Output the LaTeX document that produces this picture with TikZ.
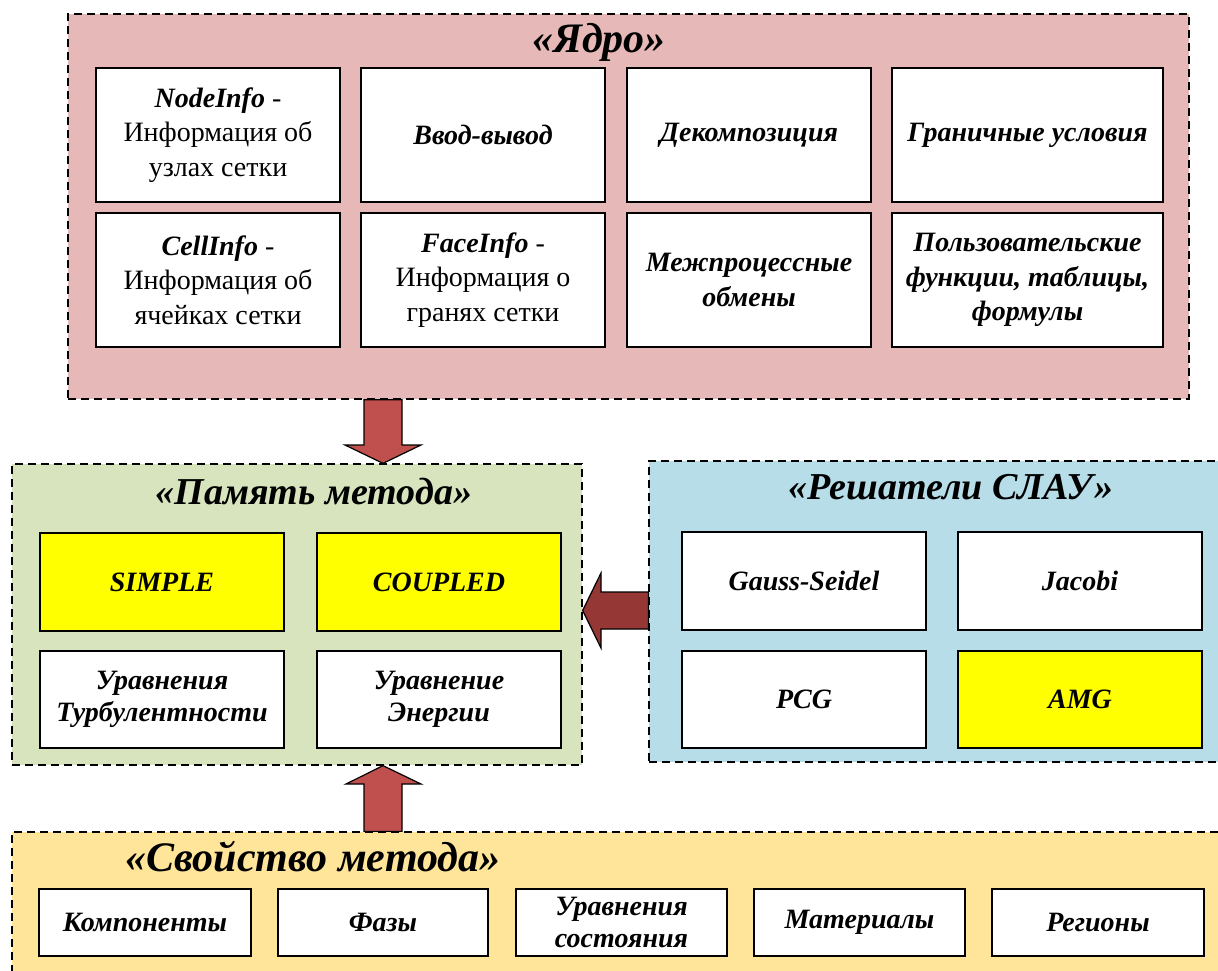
\documentclass[tikz,border=0pt]{standalone}
\usepackage{fontspec}
\setmainfont{Liberation Serif}
\definecolor{coreC}{HTML}{E6B9B8}
\definecolor{memC}{HTML}{D7E4BD}
\definecolor{solC}{HTML}{B7DDE8}
\definecolor{propC}{HTML}{FFE599}
\definecolor{arrA}{HTML}{C0504D}
\definecolor{arrB}{HTML}{953735}
\definecolor{hiC}{HTML}{FFFF00}
\newcommand{\rg}{\mdseries\upshape}
\begin{document}
\begin{tikzpicture}[x=1pt,y=-1pt,
  cont/.style={draw=black, dash pattern=on 8pt off 5pt, line width=1.3pt, rectangle, inner sep=0pt},
  box/.style={draw=black, line width=1.6pt, fill=white, rectangle, inner sep=2pt, align=center,
    font=\fontsize{28}{34.5}\selectfont\bfseries\itshape},
  sbox/.style={box, font=\fontsize{28}{32}\selectfont\bfseries\itshape},
  ttl/.style={font=\fontsize{42}{48}\selectfont\bfseries\itshape, inner sep=0pt},
  sttl/.style={font=\fontsize{38}{44}\selectfont\bfseries\itshape, inner sep=0pt},
  fatarrow/.style={draw=black, line width=1.2pt, line join=miter}]
\clip (0,0) rectangle (1218,970);
\fill[white] (0,0) rectangle (1218,970);

% containers
\node[cont, fill=coreC, minimum width=1121pt, minimum height=385pt] (core) at (628.5,206.5) {};
\node[cont, fill=memC, minimum width=570pt, minimum height=301pt] (mem) at (297,614.5) {};
\node[cont, fill=solC, minimum width=581pt, minimum height=301pt] (sol) at (939.5,611.5) {};
\node[cont, fill=propC, minimum width=1218pt, minimum height=148pt] (prop) at (621,906) {};

% titles
\node[ttl] (tcore) at (599,42) {«Ядро»};
\node[sttl] (tmem) at (314,492) {«Память метода»};
\node[sttl] (tsol) at (951,487) {«Решатели СЛАУ»};
\node[ttl] (tprop) at (313,857) {«Свойство метода»};

% core boxes
\node[box, minimum width=244pt, minimum height=134pt] (ni) at (218,135)
  {NodeInfo {\rg -}\\ {\rg Информация об}\\ {\rg узлах сетки}};
\node[box, minimum width=244pt, minimum height=134pt] (io) at (483,135) {Ввод-вывод};
\node[box, minimum width=244pt, minimum height=134pt] (dec) at (749,135) {Декомпозиция};
\node[box, minimum width=271pt, minimum height=134pt] (bc) at (1027.5,135) {Граничные условия};
\node[box, minimum width=244pt, minimum height=134pt] (ci) at (218,280)
  {CellInfo {\rg -}\\ {\rg Информация об}\\ {\rg ячейках сетки}};
\node[box, minimum width=244pt, minimum height=134pt] (fi) at (483,280)
  {FaceInfo {\rg -}\\ {\rg Информация о}\\ {\rg гранях сетки}};
\node[box, minimum width=244pt, minimum height=134pt] (mpi) at (749,280) {Межпроцессные\\ обмены};
\node[box, minimum width=271pt, minimum height=134pt] (uf) at (1027.5,280)
  {Пользовательские\\ функции, таблицы,\\ формулы};

% memory boxes
\node[sbox, fill=hiC, minimum width=244pt, minimum height=98pt] (simple) at (162,582) {SIMPLE};
\node[sbox, fill=hiC, minimum width=244pt, minimum height=98pt] (coupled) at (439,582) {COUPLED};
\node[sbox, minimum width=244pt, minimum height=97pt] (turb) at (162,699.5) {Уравнения\\ Турбулентности};
\node[sbox, minimum width=244pt, minimum height=97pt] (ener) at (439,699.5) {Уравнение\\ Энергии};

% solver boxes
\node[sbox, minimum width=244pt, minimum height=98pt] (gs) at (804,581) {Gauss-Seidel};
\node[sbox, minimum width=244pt, minimum height=98pt] (jac) at (1080,581) {Jacobi};
\node[sbox, minimum width=244pt, minimum height=97pt] (pcg) at (804,699.5) {PCG};
\node[sbox, fill=hiC, minimum width=244pt, minimum height=97pt] (amg) at (1080,699.5) {AMG};

% property boxes
\node[sbox, minimum width=212pt, minimum height=67pt] (comp) at (145,922.5) {Компоненты};
\node[sbox, minimum width=210pt, minimum height=67pt] (phase) at (383,922.5) {Фазы};
\node[sbox, minimum width=211pt, minimum height=67pt] (eos) at (621.5,922.5) {Уравнения\\ состояния};
\node[sbox, minimum width=211pt, minimum height=67pt] (mat) at (859.5,922.5) {Материалы};
\node[sbox, minimum width=212pt, minimum height=67pt] (reg) at (1098,922.5) {Регионы};

% arrow guide coordinates
\coordinate (dL) at (364,0);
\coordinate (dR) at (402,0);
\coordinate (dC) at (383,0);
\coordinate (lT) at (0,592);
\coordinate (lB) at (0,629);
\coordinate (lC) at (0,610.5);

% core -> memory
\draw[fatarrow, fill=arrA] (core.south -| dL) -- (core.south -| dR) -- (402,445) -- (421,445)
  -- (mem.north -| dC) -- (345,445) -- (364,445) -- cycle;
% solvers -> memory
\draw[fatarrow, fill=arrB] (sol.west |- lT) -- (601,592) -- (601,573) -- (mem.east |- lC)
  -- (601,648) -- (601,629) -- (sol.west |- lB) -- cycle;
% property -> memory
\draw[fatarrow, fill=arrA] (prop.north -| dL) -- (364,784) -- (346,784) -- (mem.south -| dC)
  -- (421,784) -- (402,784) -- (prop.north -| dR) -- cycle;
\end{tikzpicture}
\end{document}
